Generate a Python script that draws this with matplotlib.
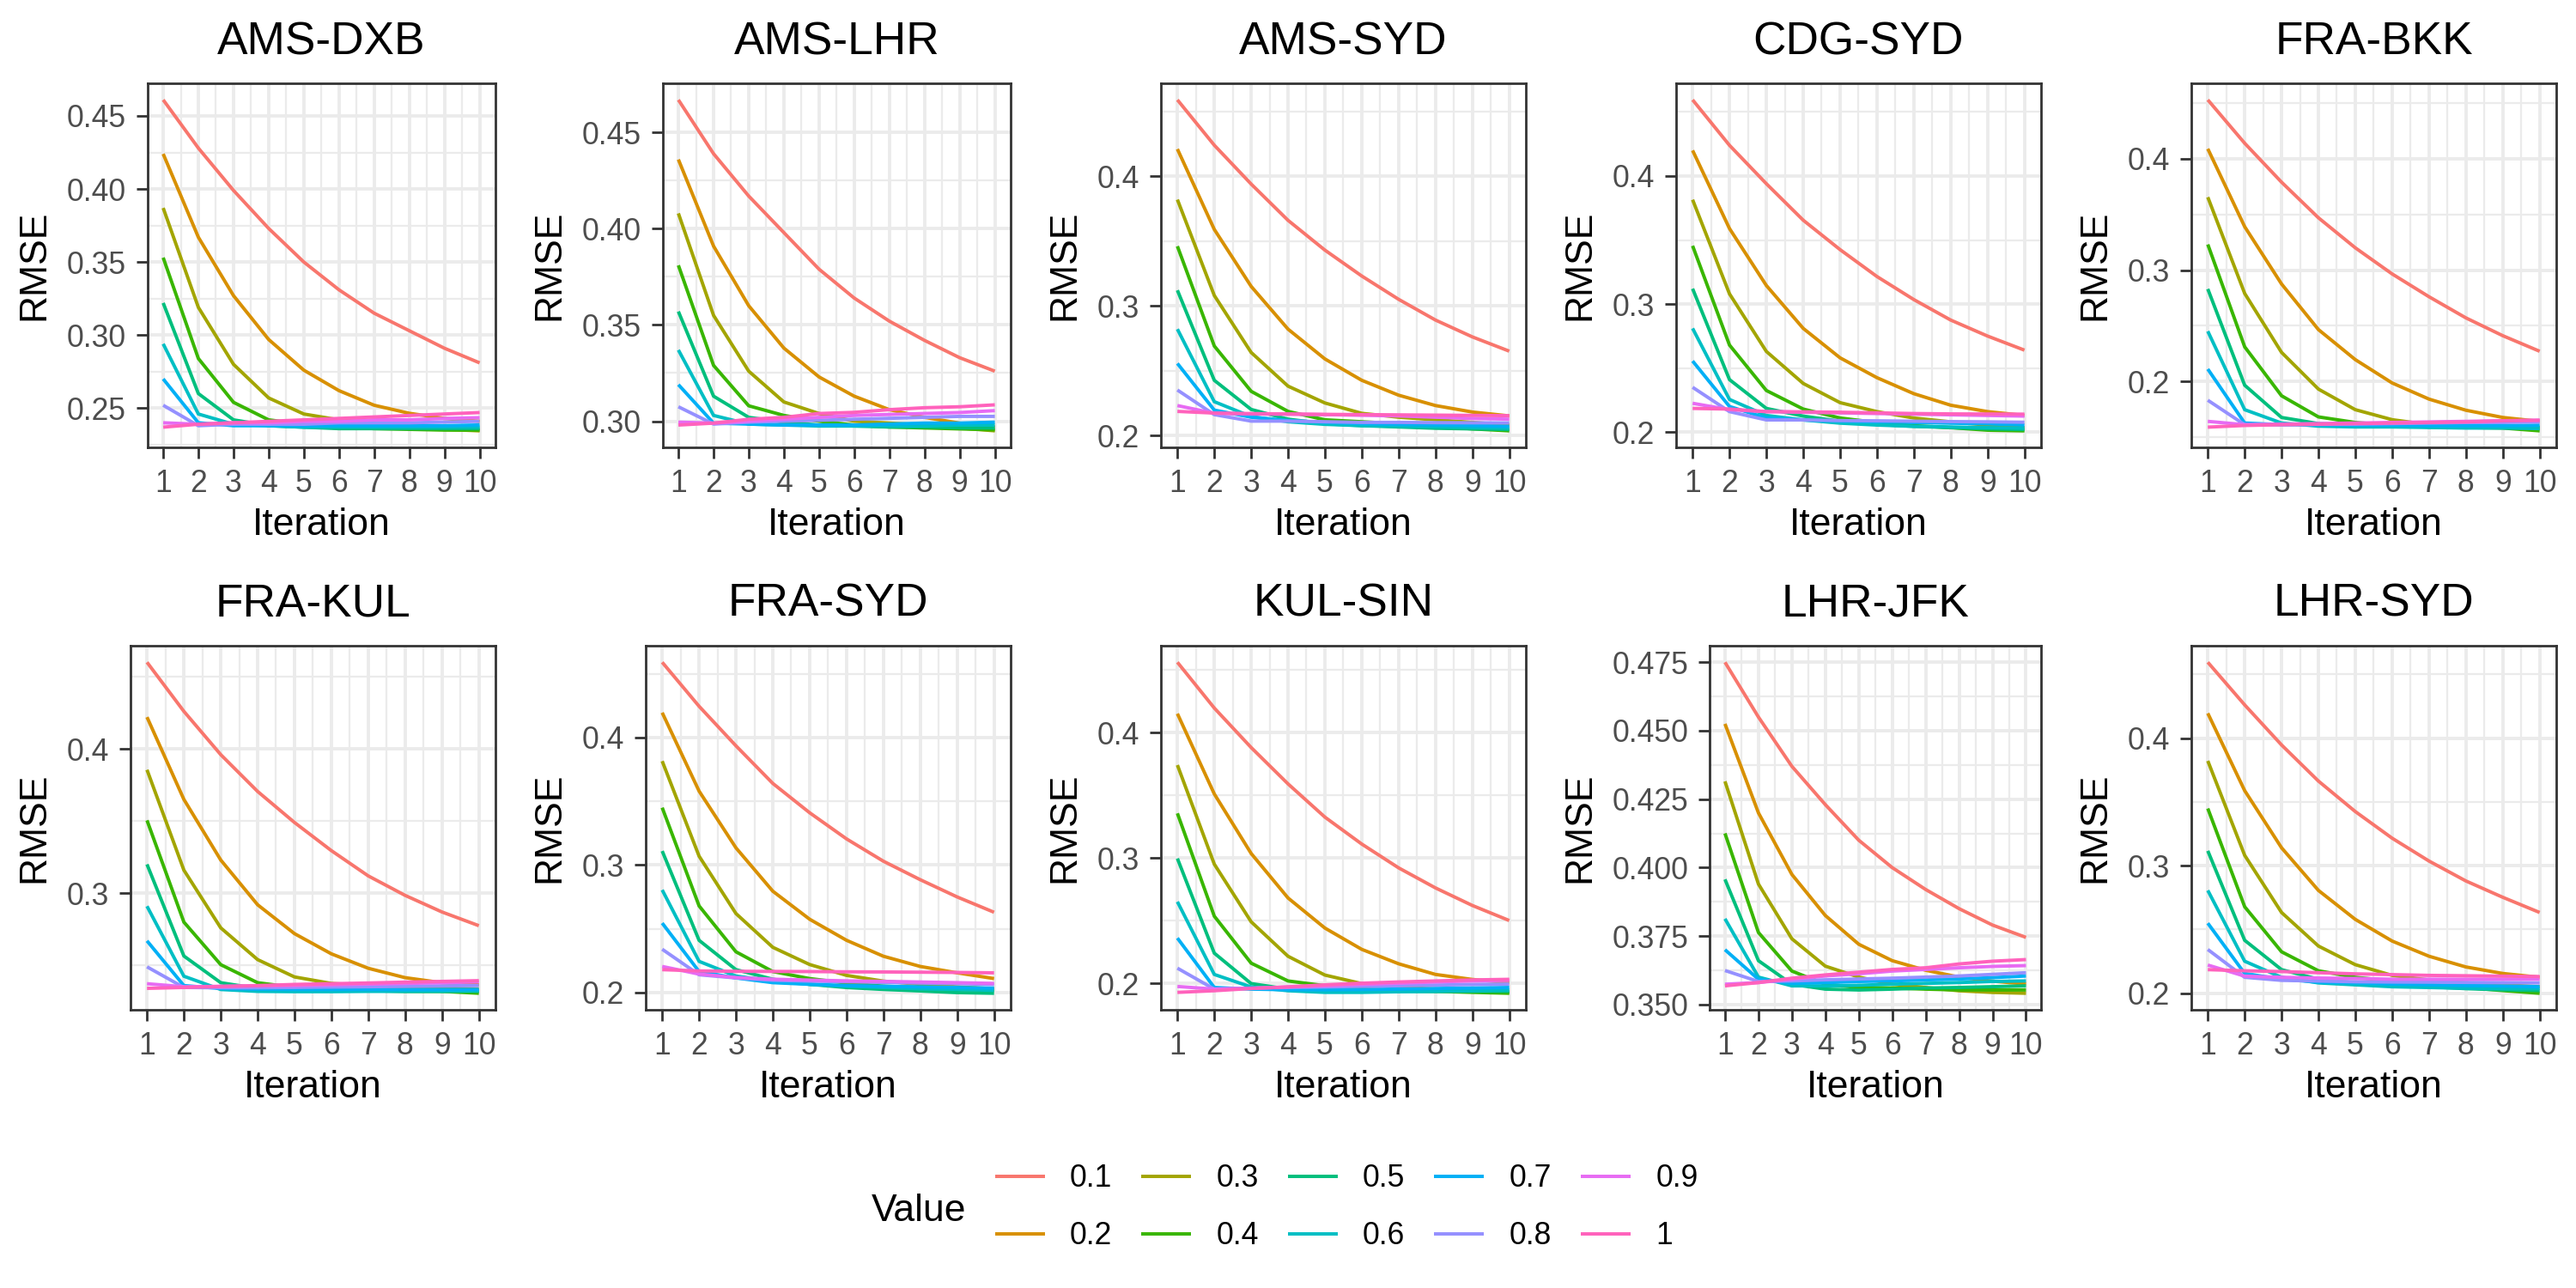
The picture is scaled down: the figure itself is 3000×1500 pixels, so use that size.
#RMSE per iteration for each route, one line per value
import matplotlib
matplotlib.use("Agg")
import matplotlib.pyplot as plt
from matplotlib.lines import Line2D

plt.rcParams['font.family'] = ['Liberation Sans', 'DejaVu Sans']

iterations = [1, 2, 3, 4, 5, 6, 7, 8, 9, 10]
values = ["0.1", "0.2", "0.3", "0.4", "0.5", "0.6", "0.7", "0.8", "0.9", "1"]
colors = ["#F8766D", "#D89000", "#A3A500", "#39B600", "#00BF7D",
          "#00BFC4", "#00B0F6", "#9590FF", "#E76BF3", "#FF62BC"]
routes = ["AMS-DXB", "AMS-LHR", "AMS-SYD", "CDG-SYD", "FRA-BKK",
          "FRA-KUL", "FRA-SYD", "KUL-SIN", "LHR-JFK", "LHR-SYD"]

# one row per value (0.1 ... 1), one column per iteration
ams_dxb = [
    [0.461, 0.428, 0.399, 0.373, 0.350, 0.331, 0.315, 0.303, 0.291, 0.281],
    [0.424, 0.367, 0.327, 0.297, 0.276, 0.262, 0.252, 0.2465, 0.243, 0.241],
    [0.387, 0.319, 0.280, 0.257, 0.246, 0.242, 0.240, 0.238, 0.2355, 0.2345],
    [0.353, 0.284, 0.254, 0.242, 0.239, 0.237, 0.236, 0.2355, 0.235, 0.235],
    [0.322, 0.260, 0.242, 0.238, 0.237, 0.236, 0.236, 0.236, 0.236, 0.236],
    [0.294, 0.246, 0.239, 0.238, 0.237, 0.237, 0.237, 0.237, 0.237, 0.237],
    [0.270, 0.240, 0.238, 0.238, 0.238, 0.238, 0.238, 0.238, 0.238, 0.2385],
    [0.252, 0.238, 0.239, 0.239, 0.239, 0.240, 0.240, 0.240, 0.2405, 0.241],
    [0.240, 0.239, 0.240, 0.240, 0.241, 0.241, 0.242, 0.242, 0.243, 0.2435],
    [0.237, 0.239, 0.240, 0.241, 0.242, 0.243, 0.244, 0.245, 0.246, 0.247],
]
ams_lhr = [
    [0.467, 0.439, 0.417, 0.398, 0.379, 0.364, 0.352, 0.342, 0.333, 0.326],
    [0.436, 0.391, 0.360, 0.338, 0.323, 0.313, 0.306, 0.302, 0.299, 0.297],
    [0.408, 0.355, 0.326, 0.310, 0.304, 0.300, 0.299, 0.298, 0.2965, 0.295],
    [0.381, 0.329, 0.308, 0.303, 0.300, 0.298, 0.297, 0.2965, 0.296, 0.2955],
    [0.357, 0.313, 0.302, 0.2995, 0.298, 0.2975, 0.297, 0.297, 0.2965, 0.2965],
    [0.337, 0.303, 0.2985, 0.298, 0.2975, 0.2975, 0.2975, 0.2975, 0.298, 0.298],
    [0.319, 0.299, 0.2985, 0.298, 0.298, 0.298, 0.2985, 0.299, 0.299, 0.2995],
    [0.3075, 0.2985, 0.2995, 0.300, 0.3005, 0.301, 0.3015, 0.302, 0.3025, 0.3025],
    [0.2995, 0.299, 0.300, 0.301, 0.302, 0.303, 0.3035, 0.304, 0.3045, 0.3055],
    [0.298, 0.299, 0.301, 0.302, 0.304, 0.3046, 0.306, 0.307, 0.3075, 0.3085],
]
ams_syd = [
    [0.459, 0.424, 0.394, 0.366, 0.343, 0.323, 0.305, 0.289, 0.276, 0.265],
    [0.421, 0.359, 0.315, 0.282, 0.259, 0.2425, 0.231, 0.223, 0.218, 0.215],
    [0.382, 0.308, 0.264, 0.238, 0.225, 0.217, 0.214, 0.212, 0.210, 0.208],
    [0.346, 0.269, 0.234, 0.2185, 0.212, 0.2105, 0.209, 0.207, 0.205, 0.2035],
    [0.312, 0.2425, 0.220, 0.2125, 0.209, 0.2075, 0.2065, 0.2055, 0.205, 0.2045],
    [0.282, 0.226, 0.2145, 0.2105, 0.2085, 0.2075, 0.207, 0.2065, 0.206, 0.2055],
    [0.2555, 0.2195, 0.214, 0.2115, 0.210, 0.209, 0.2085, 0.208, 0.2075, 0.207],
    [0.235, 0.216, 0.211, 0.211, 0.2105, 0.210, 0.210, 0.2098, 0.2097, 0.2096],
    [0.223, 0.217, 0.2165, 0.2163, 0.216, 0.2155, 0.215, 0.214, 0.213, 0.2125],
    [0.2185, 0.2172, 0.2168, 0.2165, 0.2162, 0.216, 0.2158, 0.2156, 0.2154, 0.2152],
]
cdg_syd = [
    [0.4595, 0.424, 0.394, 0.3655, 0.3425, 0.3215, 0.3035, 0.2875, 0.275, 0.264],
    [0.420, 0.359, 0.3145, 0.281, 0.258, 0.2425, 0.230, 0.221, 0.216, 0.213],
    [0.3815, 0.308, 0.263, 0.238, 0.223, 0.216, 0.211, 0.208, 0.2055, 0.2035],
    [0.3455, 0.268, 0.2325, 0.218, 0.211, 0.2075, 0.205, 0.2035, 0.2015, 0.201],
    [0.312, 0.241, 0.2185, 0.2125, 0.2085, 0.206, 0.2045, 0.2035, 0.2025, 0.202],
    [0.281, 0.2255, 0.213, 0.2095, 0.207, 0.2055, 0.2045, 0.204, 0.2035, 0.203],
    [0.2555, 0.220, 0.211, 0.2095, 0.2085, 0.208, 0.2075, 0.207, 0.2065, 0.2055],
    [0.235, 0.216, 0.2095, 0.2095, 0.209, 0.2088, 0.2085, 0.2082, 0.208, 0.2077],
    [0.2225, 0.2175, 0.216, 0.2155, 0.215, 0.2145, 0.214, 0.2135, 0.213, 0.2125],
    [0.2185, 0.218, 0.216, 0.2158, 0.2155, 0.215, 0.2145, 0.2142, 0.2141, 0.214],
]
fra_bkk = [
    [0.453, 0.414, 0.379, 0.347, 0.320, 0.2965, 0.276, 0.257, 0.241, 0.227],
    [0.409, 0.339, 0.2875, 0.2465, 0.2195, 0.1985, 0.184, 0.174, 0.1675, 0.164],
    [0.3655, 0.279, 0.226, 0.193, 0.1745, 0.1655, 0.161, 0.160, 0.159, 0.1585],
    [0.323, 0.231, 0.187, 0.168, 0.163, 0.1605, 0.159, 0.1585, 0.158, 0.1555],
    [0.283, 0.1965, 0.1675, 0.162, 0.1605, 0.1595, 0.159, 0.1585, 0.1585, 0.1585],
    [0.245, 0.1745, 0.1625, 0.1597, 0.159, 0.159, 0.1585, 0.158, 0.158, 0.1575],
    [0.211, 0.1625, 0.161, 0.161, 0.1605, 0.1605, 0.160, 0.160, 0.160, 0.1605],
    [0.183, 0.161, 0.161, 0.1612, 0.1615, 0.162, 0.1625, 0.163, 0.163, 0.1635],
    [0.164, 0.161, 0.1615, 0.162, 0.1625, 0.163, 0.1635, 0.164, 0.1645, 0.165],
    [0.1588, 0.1603, 0.161, 0.1615, 0.162, 0.1625, 0.163, 0.1635, 0.1645, 0.165],
]
fra_kul = [
    [0.460, 0.426, 0.396, 0.3705, 0.349, 0.3295, 0.312, 0.2985, 0.287, 0.2775],
    [0.422, 0.365, 0.323, 0.292, 0.272, 0.258, 0.248, 0.2415, 0.238, 0.2365],
    [0.3855, 0.316, 0.276, 0.254, 0.242, 0.2375, 0.236, 0.2347, 0.234, 0.2335],
    [0.3505, 0.280, 0.2505, 0.238, 0.2347, 0.2333, 0.2325, 0.232, 0.232, 0.2307],
    [0.320, 0.2565, 0.238, 0.234, 0.2333, 0.2328, 0.2325, 0.2322, 0.232, 0.232],
    [0.291, 0.2425, 0.2333, 0.232, 0.2318, 0.2318, 0.232, 0.232, 0.2322, 0.2325],
    [0.267, 0.236, 0.234, 0.2335, 0.2333, 0.2333, 0.2333, 0.2333, 0.2333, 0.2333],
    [0.249, 0.2347, 0.2345, 0.2345, 0.2347, 0.235, 0.2352, 0.2355, 0.2358, 0.236],
    [0.2373, 0.2352, 0.2355, 0.2358, 0.236, 0.2365, 0.237, 0.2375, 0.238, 0.2386],
    [0.2341, 0.2347, 0.2354, 0.236, 0.2368, 0.2373, 0.2378, 0.2384, 0.2389, 0.2394],
]
fra_syd = [
    [0.459, 0.4245, 0.3935, 0.364, 0.341, 0.3205, 0.303, 0.2885, 0.275, 0.263],
    [0.4195, 0.358, 0.3135, 0.2795, 0.2575, 0.241, 0.2285, 0.2205, 0.2155, 0.211],
    [0.3815, 0.307, 0.262, 0.2355, 0.222, 0.2135, 0.209, 0.2065, 0.2045, 0.203],
    [0.345, 0.268, 0.232, 0.2165, 0.211, 0.2075, 0.205, 0.204, 0.2025, 0.2018],
    [0.311, 0.241, 0.218, 0.2105, 0.2065, 0.204, 0.2025, 0.2013, 0.200, 0.1995],
    [0.2805, 0.2245, 0.213, 0.209, 0.2065, 0.205, 0.204, 0.203, 0.2025, 0.2018],
    [0.2545, 0.2165, 0.2115, 0.2078, 0.2065, 0.2055, 0.205, 0.2045, 0.204, 0.2035],
    [0.234, 0.214, 0.2115, 0.2097, 0.209, 0.2085, 0.208, 0.2075, 0.207, 0.2064],
    [0.2205, 0.2145, 0.2118, 0.2105, 0.2098, 0.2092, 0.2088, 0.2083, 0.2078, 0.2072],
    [0.218, 0.217, 0.2167, 0.2166, 0.2165, 0.2163, 0.2162, 0.216, 0.2158, 0.2155],
]
kul_sin = [
    [0.456, 0.4195, 0.388, 0.359, 0.3325, 0.311, 0.292, 0.276, 0.262, 0.250],
    [0.415, 0.351, 0.3035, 0.268, 0.244, 0.227, 0.2155, 0.207, 0.203, 0.2005],
    [0.374, 0.295, 0.249, 0.2215, 0.2065, 0.1997, 0.197, 0.1953, 0.194, 0.1927],
    [0.3355, 0.2535, 0.216, 0.2018, 0.198, 0.1953, 0.194, 0.1935, 0.1927, 0.192],
    [0.2995, 0.224, 0.1997, 0.1953, 0.194, 0.1935, 0.1935, 0.1935, 0.1935, 0.1935],
    [0.265, 0.207, 0.197, 0.194, 0.1927, 0.1927, 0.1932, 0.1935, 0.194, 0.1945],
    [0.236, 0.1966, 0.1953, 0.1948, 0.1948, 0.195, 0.1953, 0.1958, 0.1962, 0.1966],
    [0.212, 0.1953, 0.196, 0.1966, 0.197, 0.1975, 0.198, 0.1985, 0.199, 0.1993],
    [0.1974, 0.1953, 0.196, 0.197, 0.198, 0.199, 0.200, 0.201, 0.2018, 0.2023],
    [0.1927, 0.194, 0.1958, 0.1971, 0.1987, 0.200, 0.201, 0.2018, 0.2026, 0.2031],
]
lhr_jfk = [
    [0.475, 0.455, 0.437, 0.423, 0.410, 0.400, 0.392, 0.385, 0.379, 0.3745],
    [0.4525, 0.420, 0.3975, 0.3825, 0.372, 0.366, 0.3625, 0.360, 0.3585, 0.3575],
    [0.4315, 0.394, 0.374, 0.364, 0.360, 0.3574, 0.3562, 0.355, 0.3544, 0.3541],
    [0.4125, 0.3763, 0.3622, 0.3574, 0.3562, 0.356, 0.3556, 0.3553, 0.3553, 0.3553],
    [0.3957, 0.366, 0.3574, 0.3556, 0.3553, 0.3556, 0.356, 0.3562, 0.3565, 0.3568],
    [0.3813, 0.360, 0.3568, 0.3568, 0.357, 0.3574, 0.3577, 0.358, 0.3584, 0.3586],
    [0.370, 0.3592, 0.3577, 0.358, 0.3584, 0.3586, 0.359, 0.3593, 0.3598, 0.3604],
    [0.3624, 0.3584, 0.3586, 0.359, 0.3593, 0.3596, 0.360, 0.3604, 0.361, 0.3616],
    [0.3574, 0.358, 0.3592, 0.3604, 0.3612, 0.3622, 0.3628, 0.3634, 0.3639, 0.3642],
    [0.3568, 0.358, 0.3596, 0.3608, 0.3618, 0.3628, 0.3634, 0.3648, 0.3658, 0.3664],
]
lhr_syd = [
    [0.4594, 0.426, 0.3946, 0.3663, 0.3424, 0.3215, 0.3036, 0.288, 0.2752, 0.2633],
    [0.4194, 0.3588, 0.314, 0.2806, 0.2579, 0.2409, 0.229, 0.2206, 0.2155, 0.2125],
    [0.3821, 0.3081, 0.2633, 0.237, 0.2224, 0.214, 0.2104, 0.2081, 0.2066, 0.2051],
    [0.3448, 0.2678, 0.2325, 0.2176, 0.2125, 0.2096, 0.2066, 0.2045, 0.2021, 0.200],
    [0.3116, 0.2415, 0.2185, 0.211, 0.2081, 0.2066, 0.2051, 0.2036, 0.2027, 0.2021],
    [0.2806, 0.2251, 0.2125, 0.2081, 0.2066, 0.2051, 0.2045, 0.2039, 0.2036, 0.2036],
    [0.2549, 0.2155, 0.211, 0.2087, 0.2081, 0.2072, 0.2066, 0.206, 0.2057, 0.2051],
    [0.2343, 0.2125, 0.2101, 0.2096, 0.209, 0.2088, 0.2087, 0.2085, 0.2083, 0.2081],
    [0.2221, 0.2134, 0.2125, 0.2119, 0.2116, 0.211, 0.211, 0.211, 0.211, 0.211],
    [0.2185, 0.2176, 0.217, 0.2161, 0.2152, 0.2146, 0.214, 0.2137, 0.2134, 0.2131],
]
panels = [ams_dxb, ams_lhr, ams_syd, cdg_syd, fra_bkk,
          fra_kul, fra_syd, kul_sin, lhr_jfk, lhr_syd]

# y axis breaks of each panel
yticks = [
    ["0.25", "0.30", "0.35", "0.40", "0.45"],
    ["0.30", "0.35", "0.40", "0.45"],
    ["0.2", "0.3", "0.4"],
    ["0.2", "0.3", "0.4"],
    ["0.2", "0.3", "0.4"],
    ["0.3", "0.4"],
    ["0.2", "0.3", "0.4"],
    ["0.2", "0.3", "0.4"],
    ["0.350", "0.375", "0.400", "0.425", "0.450", "0.475"],
    ["0.2", "0.3", "0.4"],
]

W, H = 3000, 1500
fig = plt.figure(figsize=(15, 7.5), dpi=200)
renderer = fig.canvas.get_renderer()

tick_size = 12.8
grid_col = "#EBEBEB"
dark = "#333333"

def label_width(labels):
    w = 0
    for lab in labels:
        t = fig.text(0, 0, lab, fontsize=tick_size)
        w = max(w, t.get_window_extent(renderer).width)
        t.remove()
    return w

for index, data in enumerate(panels):
    row = index // 5
    col = index % 5
    col_x = 600 * col
    top = 97 + 655 * row
    bottom = top + 424
    left = col_x + 102.5 + label_width(yticks[index])
    right = col_x + 577

    ax = fig.add_axes([left / W, 1 - bottom / H, (right - left) / W, (bottom - top) / H])
    for k in range(len(values)):
        ax.plot(iterations, data[k], color=colors[k], lw=1.42, solid_capstyle="butt")

    lo = min(min(s) for s in data)
    hi = max(max(s) for s in data)
    pad = 0.05 * (hi - lo)
    ax.set_ylim(lo - pad, hi + pad)
    ax.set_xlim(0.55, 10.45)

    ticks = [float(t) for t in yticks[index]]
    step = ticks[1] - ticks[0]
    minor = [t - step / 2 for t in ticks] + [ticks[-1] + step / 2]
    minor = [m for m in minor if lo - pad < m < hi + pad]
    ax.set_yticks(ticks, labels=yticks[index])
    ax.set_yticks(minor, minor=True)
    ax.set_xticks(iterations, labels=[str(i) for i in iterations])
    ax.set_xticks([i + 0.5 for i in iterations[:-1]], minor=True)

    ax.set_axisbelow(True)
    ax.grid(which="major", color=grid_col, lw=1.4)
    ax.grid(which="minor", color=grid_col, lw=0.8)
    ax.tick_params(which="major", length=4.7, width=1.0, color=dark,
                   labelcolor="#4D4D4D", labelsize=tick_size, pad=4.3)
    ax.tick_params(which="minor", length=0)
    for sp in ax.spines.values():
        sp.set_color(dark)
        sp.set_linewidth(1.0)

    cx = (left + right) / 2
    fig.text(cx / W, 1 - (top - 34) / H, routes[index], ha="center", va="baseline",
             fontsize=19.2, color="black")
    fig.text(cx / W, 1 - (bottom + 102) / H, "Iteration", ha="center", va="baseline",
             fontsize=16, color="black")
    fig.text((col_x + 40) / W, 1 - (top + bottom) / 2 / H, "RMSE", ha="center", va="center",
             rotation=90, fontsize=16, color="black")

# legend at the bottom, two rows filled column by column
handles = [Line2D([0], [0], color=c, lw=1.42, solid_capstyle="butt") for c in colors]
fig.legend(handles, values, ncol=5, loc="center", bbox_to_anchor=(1568 / W, 1 - 1406 / H),
           frameon=False, fontsize=tick_size, handlelength=1.63, handletextpad=0.82,
           columnspacing=0.96, labelspacing=0.9, borderaxespad=0, borderpad=0)
fig.text(1015 / W, 1 - 1422 / H, "Value", ha="left", va="baseline", fontsize=16, color="black")

fig.savefig("out.png", dpi=200, facecolor="white")
